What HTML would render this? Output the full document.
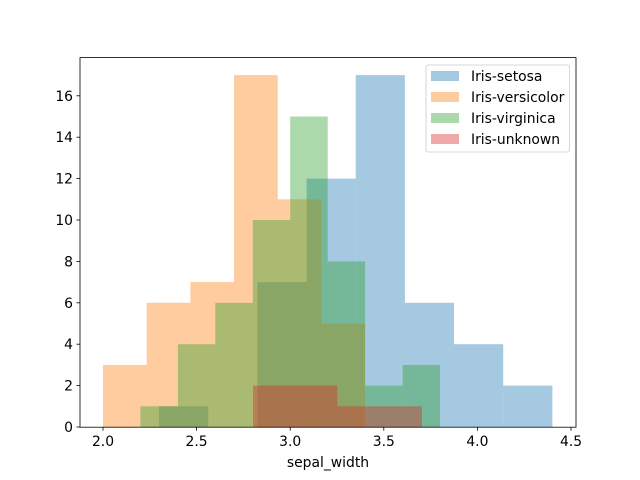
<!DOCTYPE html>
<html><head><meta charset="utf-8"><style>body{margin:0;background:#fff}svg{display:block}text{font-family:"DejaVu Sans","Liberation Sans",sans-serif;font-size:13.9px;fill:#000}</style></head><body>
<svg width="640" height="480" xmlns="http://www.w3.org/2000/svg">
<rect width="640" height="480" fill="#fff"/>
<g fill-opacity="0.4">
<g fill="#1f77b4">
<rect x="159" y="406.3" width="49.2" height="20.7"/>
<rect x="257.4" y="282.1" width="49.2" height="144.9"/>
<rect x="306.6" y="178.6" width="49.1" height="248.4"/>
<rect x="355.7" y="75.1" width="49.2" height="351.9"/>
<rect x="404.9" y="302.8" width="49.1" height="124.2"/>
<rect x="454" y="344.2" width="49.2" height="82.8"/>
<rect x="503.2" y="385.6" width="49.2" height="41.4"/>
</g>
<g fill="#ff7f0e">
<rect x="103" y="364.9" width="43.7" height="62.1"/>
<rect x="146.7" y="302.8" width="43.7" height="124.2"/>
<rect x="190.4" y="282.1" width="43.6" height="144.9"/>
<rect x="234" y="75.1" width="43.7" height="351.9"/>
<rect x="277.7" y="199.3" width="43.7" height="227.7"/>
<rect x="321.4" y="323.5" width="43.7" height="103.5"/>
</g>
<g fill="#2ca02c">
<rect x="140.4" y="406.3" width="37.5" height="20.7"/>
<rect x="177.9" y="344.2" width="37.4" height="82.8"/>
<rect x="215.3" y="302.8" width="37.5" height="124.2"/>
<rect x="252.8" y="220" width="37.4" height="207"/>
<rect x="290.2" y="116.5" width="37.5" height="310.5"/>
<rect x="327.7" y="261.4" width="37.4" height="165.6"/>
<rect x="365.1" y="385.6" width="37.5" height="41.4"/>
<rect x="402.6" y="364.9" width="37.4" height="62.1"/>
</g>
<g fill="#d62728">
<rect x="253" y="385.6" width="84.3" height="41.4"/>
<rect x="337.3" y="406.3" width="84.7" height="20.7"/>
</g>
</g>
<rect x="80" y="57.6" width="496" height="369.6" fill="none" stroke="#000" stroke-width="0.8"/>
<g stroke="#000" stroke-width="0.8">
<line x1="103" y1="427.2" x2="103" y2="430.7"/><line x1="196.6" y1="427.2" x2="196.6" y2="430.7"/><line x1="290.2" y1="427.2" x2="290.2" y2="430.7"/><line x1="383.8" y1="427.2" x2="383.8" y2="430.7"/><line x1="477.4" y1="427.2" x2="477.4" y2="430.7"/><line x1="571" y1="427.2" x2="571" y2="430.7"/>
<line x1="76.5" y1="427" x2="80" y2="427"/><line x1="76.5" y1="385.6" x2="80" y2="385.6"/><line x1="76.5" y1="344.2" x2="80" y2="344.2"/><line x1="76.5" y1="302.8" x2="80" y2="302.8"/><line x1="76.5" y1="261.4" x2="80" y2="261.4"/><line x1="76.5" y1="220" x2="80" y2="220"/><line x1="76.5" y1="178.6" x2="80" y2="178.6"/><line x1="76.5" y1="137.2" x2="80" y2="137.2"/><line x1="76.5" y1="95.8" x2="80" y2="95.8"/>
</g>
<g text-anchor="middle">
<text x="103" y="446">2.0</text><text x="196.6" y="446">2.5</text><text x="290.2" y="446">3.0</text><text x="383.8" y="446">3.5</text><text x="477.4" y="446">4.0</text><text x="571" y="446">4.5</text>
<text x="328" y="467">sepal_width</text>
</g>
<g text-anchor="end">
<text x="73" y="432">0</text><text x="73" y="390.6">2</text><text x="73" y="349.2">4</text><text x="73" y="307.8">6</text><text x="73" y="266.4">8</text><text x="73" y="225">10</text><text x="73" y="183.6">12</text><text x="73" y="142.2">14</text><text x="73" y="100.8">16</text>
</g>
<rect x="426" y="65" width="143.5" height="87" rx="2" fill="#fff" fill-opacity="0.8" stroke="#ccc" stroke-width="0.8"/>
<g fill-opacity="0.4">
<rect x="431" y="71" width="28" height="10" fill="#1f77b4"/>
<rect x="431" y="92" width="28" height="10" fill="#ff7f0e"/>
<rect x="431" y="113" width="28" height="10" fill="#2ca02c"/>
<rect x="431" y="134" width="28" height="10" fill="#d62728"/>
</g>
<text x="471" y="81">Iris-setosa</text>
<text x="471" y="102">Iris-versicolor</text>
<text x="471" y="123">Iris-virginica</text>
<text x="471" y="144">Iris-unknown</text>
</svg>
</body></html>
